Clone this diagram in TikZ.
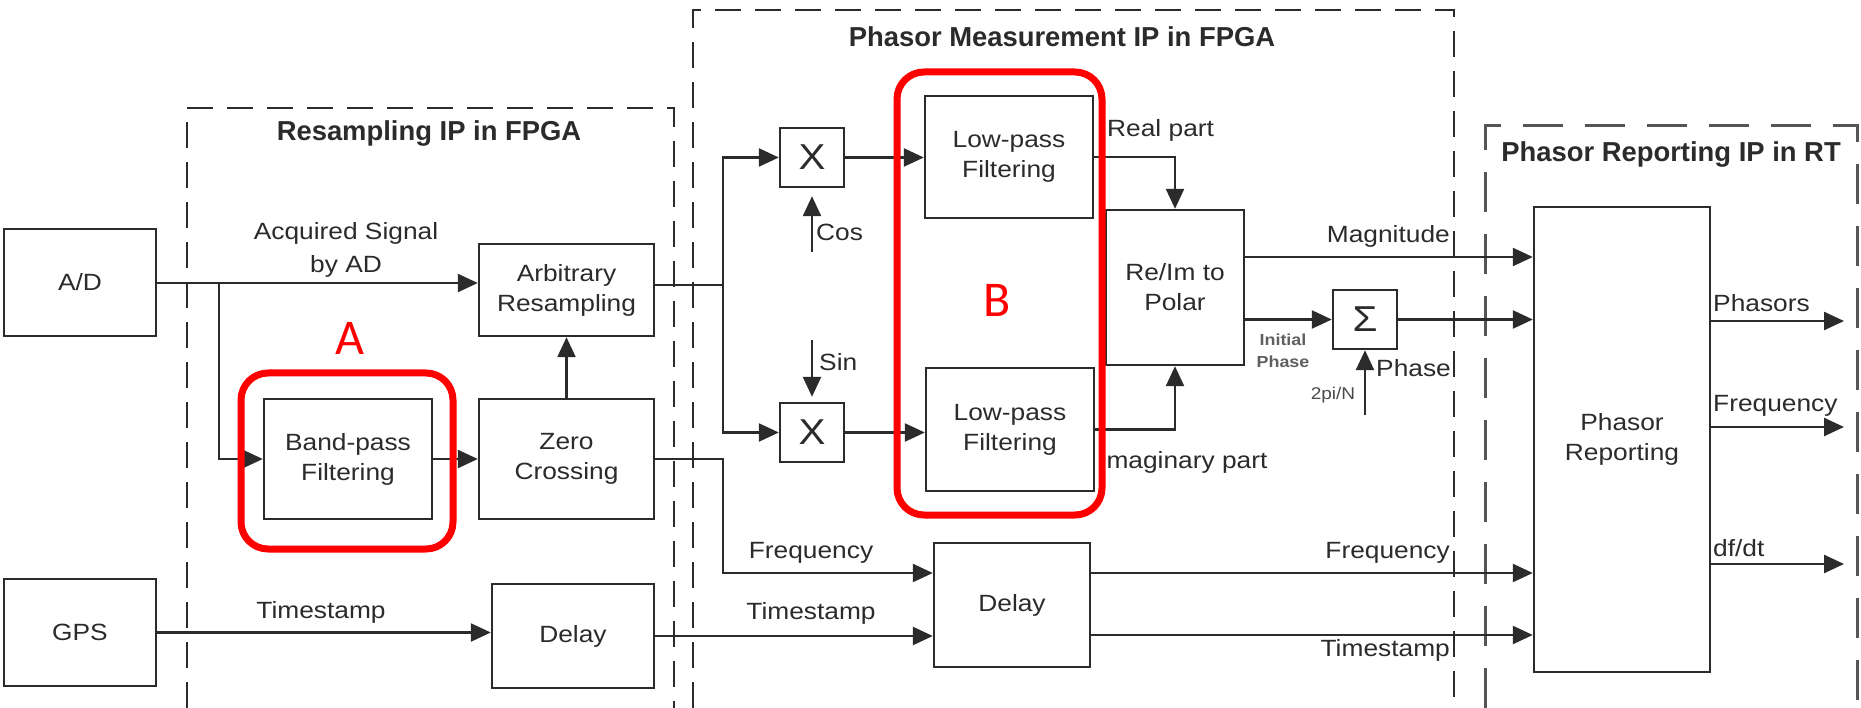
\documentclass[tikz,border=0pt]{standalone}
\usepackage{fontspec}
\setmainfont{Liberation Sans}
\newfontfamily\lblfont{Liberation Sans}[FakeStretch=1.12]
\newfontfamily\markfont{Carlito}
\usetikzlibrary{arrows.meta}
\definecolor{ink}{HTML}{2B2B2B}
\definecolor{hl}{HTML}{FF0000}
\tikzset{
  lbl/.style={font={\lblfont\fontsize{23.5}{30}\selectfont}, text=ink, inner sep=0pt},
  box/.style={draw=ink, line width=2.4pt, lbl, align=center, inner sep=0pt},
  wire/.style={draw=ink, line width=2.4pt},
  arr/.style={wire, -{Triangle[length=20pt,width=18pt]}},
  grp/.style={draw=ink, line width=2.4pt, dash pattern=on 26pt off 14pt},
  grpwide/.style={draw=ink!80, line width=3pt, dash pattern=on 40pt off 22pt},
  ttl/.style={font={\bfseries\fontsize{27.4}{32}\selectfont}, text=ink, inner sep=0pt},
  hlbox/.style={draw=hl, line width=7pt, rounded corners=27pt},
  hllbl/.style={font={\markfont\fontsize{50}{54}\selectfont}, text=hl, inner sep=0pt},
  small/.style={font={\lblfont\bfseries\fontsize{16}{22}\selectfont}, text=ink!75, inner sep=0pt, align=center},
  smallthin/.style={font={\lblfont\fontsize{17}{22}\selectfont}, text=ink!85, inner sep=0pt},
  big/.style={font={\lblfont\fontsize{36}{40}\selectfont}},
}
\begin{document}
\begin{tikzpicture}[x=1pt,y=-1pt]
\useasboundingbox (0,0) rectangle (1861,708);
\fill[white] (0,0) rectangle (1861,708);

% group frames
\draw[grp] (187,708) -- (187,108) -- (674,108) -- (674,708);
\draw[grp] (693,708) -- (693,10) -- (1454,10) -- (1454,708);
\draw[grpwide] (1485,708) -- (1485,126) -- (1857,126) -- (1857,708);
\node[ttl] (t1) at (429,133) {Resampling IP in FPGA};
\node[ttl] (t2) at (1062,37) {Phasor Measurement IP in FPGA};
\node[ttl] (t3) at (1671,154) {Phasor Reporting IP in RT};

% blocks
\node[box, minimum width=152pt, minimum height=107pt] (AD) at (80,282.5) {A/D};
\node[box, minimum width=152pt, minimum height=107pt] (GPS) at (80,632.5) {GPS};
\node[box, minimum width=175pt, minimum height=92pt] (ARB) at (566.5,290) {Arbitrary\\Resampling};
\node[box, minimum width=168pt, minimum height=120pt] (BPF) at (348,459) {Band-pass\\Filtering};
\node[box, minimum width=175pt, minimum height=120pt] (ZC) at (566.5,459) {Zero\\Crossing};
\node[box, minimum width=162pt, minimum height=104pt] (DL1) at (573,636) {Delay};
\node[box, big, minimum width=64pt, minimum height=59pt] (X1) at (812,157.5) {X};
\node[box, big, minimum width=64pt, minimum height=59pt] (X2) at (812,432.5) {X};
\node[box, minimum width=168pt, minimum height=122pt] (LP1) at (1009,157) {Low-pass\\Filtering};
\node[box, minimum width=168pt, minimum height=123pt] (LP2) at (1010,429.5) {Low-pass\\Filtering};
\node[box, minimum width=138pt, minimum height=155pt] (POL) at (1175,287.5) {Re/Im to\\Polar};
\node[box, big, minimum width=64pt, minimum height=59pt] (SUM) at (1365,319.5) {Σ};
\node[box, minimum width=156pt, minimum height=124pt] (DL2) at (1012,605) {Delay};
\node[box, minimum width=176pt, minimum height=465pt] (PR) at (1622,439.5) {Phasor\\Reporting};

% connectors
\coordinate (br1) at (219,283);
\draw[arr] (AD.east |- br1) -- (br1 -| ARB.west);
\draw[arr] (br1) |- (BPF.west);
\draw[arr] (BPF.east) -- (ZC.west);
\draw[arr] (ZC.north) -- (ARB.south);
\coordinate (sp) at (723,285);
\draw[wire] (ARB.east |- sp) -- (sp);
\draw[arr] (sp) |- (X1.west);
\draw[arr] (sp) |- (X2.west);
\coordinate (cosS) at (812,252);
\draw[arr, shorten >=8pt] (cosS) -- (cosS |- X1.south);
\coordinate (sinS) at (812,340);
\draw[arr, shorten >=5pt] (sinS) -- (sinS |- X2.north);
\draw[arr] (X1.east) -- (X1.east -| LP1.west);
\draw[arr] (X2.east) -- (X2.east -| LP2.west);
\draw[arr] (LP1.east) -| (POL.north);
\draw[arr] (LP2.east) -| (POL.south);
\coordinate (magS) at (1244,257);
\draw[arr] (magS -| POL.east) -- (magS -| PR.west);
\coordinate (ipS) at (1244,319.5);
\draw[arr] (ipS -| POL.east) -- (SUM.west);
\draw[arr] (SUM.east) -- (SUM.east -| PR.west);
\coordinate (tpn) at (1365,415);
\draw[arr] (tpn) -- (SUM.south);
\coordinate (fq) at (723,573);
\draw[arr] (ZC.east) -- (ZC.east -| fq) -- (fq) -- (fq -| DL2.west);
\draw[arr] (GPS.east) -- (GPS.east -| DL1.west);
\draw[arr] (DL1.east) -- (DL1.east -| DL2.west);
\draw[arr] (fq -| DL2.east) -- (fq -| PR.west);
\coordinate (ts) at (1000,635);
\draw[arr] (ts -| DL2.east) -- (ts -| PR.west);
\coordinate (o1) at (1844,321);
\coordinate (o2) at (1844,427);
\coordinate (o3) at (1844,564);
\draw[arr] (o1 -| PR.east) -- (o1);
\draw[arr] (o2 -| PR.east) -- (o2);
\draw[arr] (o3 -| PR.east) -- (o3);

% labels
\node[lbl, align=center, font={\lblfont\fontsize{23.5}{33}\selectfont}] (lacq) at (346,250) {Acquired Signal\\by AD};
\node[lbl] (lts1) at (321,612) {Timestamp};
\node[lbl, anchor=west] (lcos) at (816,232) {Cos};
\node[lbl, anchor=west] (lsin) at (819,362) {Sin};
\node[lbl, anchor=west] (lre) at (1107,130) {Real part};
\node[lbl, anchor=west] (lim) at (1099,462) {Imaginary part};
\node[lbl, anchor=east] (lmag) at (1450,236) {Magnitude};
\node[small] (lip) at (1283,351) {Initial\\Phase};
\node[smallthin] (l2pi) at (1333,395) {2pi/N};
\node[lbl, anchor=west] (lph) at (1376,368) {Phase};
\node[lbl] (lfq1) at (811,553) {Frequency};
\node[lbl] (lts2) at (811,613) {Timestamp};
\node[lbl, anchor=east] (lfq2) at (1450,553) {Frequency};
\node[lbl, anchor=east] (lts3) at (1450,650) {Timestamp};
\node[lbl, anchor=west] (lphs) at (1713,303) {Phasors};
\node[lbl, anchor=west] (lfq3) at (1713,406) {Frequency};
\node[lbl, anchor=west] (ldf) at (1713,548) {df/dt};

% highlights
\draw[hlbox] (241,373) rectangle (453,549);
\draw[hlbox] (897,72) rectangle (1102,515);
\node[hllbl] (la) at (350,338) {A};
\node[hllbl] (lb) at (997,300) {B};
\end{tikzpicture}
\end{document}
